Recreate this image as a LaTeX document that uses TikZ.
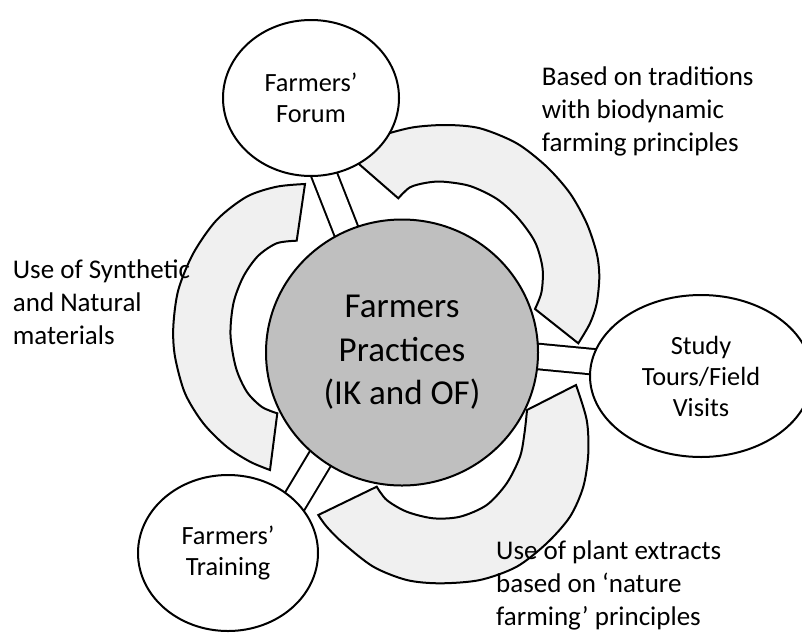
\documentclass[tikz,border=0pt]{standalone}
\usepackage{fontspec}
\setmainfont{Carlito}
\usetikzlibrary{shapes.geometric}
\pgfdeclarelayer{bars}
\pgfdeclarelayer{bands}
\pgfsetlayers{bars,bands,main}
\definecolor{hubgray}{gray}{0.75}
\definecolor{bandgray}{gray}{0.94}
\tikzset{
  outline/.style={draw=black, line width=2pt},
  hubnode/.style={ellipse, outline, fill=hubgray, minimum width=272pt, minimum height=266pt,
    inner sep=0pt, align=center, font=\fontsize{35}{43.5}\selectfont},
  satnode/.style={ellipse, outline, fill=white, inner sep=0pt, align=center,
    font=\fontsize{26.3}{31}\selectfont},
  band/.style={outline, fill=bandgray},
  barouter/.style={line width=27.5pt, draw=black},
  barinner/.style={line width=23.5pt, draw=white},
  % the base of a multi-line note is the baseline of its last line
  note/.style={anchor=base west, align=left, inner sep=0pt, font=\fontsize{27}{33}\selectfont},
}
\begin{document}
\begin{tikzpicture}[x=1pt,y=-1pt]
\useasboundingbox (0,0) rectangle (802,632);

% central practice circle and the three sources around it
\node[hubnode] (hub) at (402,352.5) {Farmers\\Practices\\(IK and OF)};
\node[satnode, minimum width=176pt, minimum height=156pt] (forum) at (311,98) {Farmers’\\Forum};
\node[satnode, minimum width=222pt, minimum height=162pt] (study) at (701,376) {Study\\Tours/Field\\Visits};
\node[satnode, minimum width=180pt, minimum height=156pt] (training) at (228,553) {Farmers’\\Training};

% spokes joining each source to the centre
\begin{pgfonlayer}{bars}
  \draw[barouter] ([xshift=-17pt]forum.center) -- ([xshift=-8pt]hub.center);
  \draw[barinner] ([xshift=-17pt]forum.center) -- ([xshift=-8pt]hub.center);
  \draw[barouter] ([yshift=4pt]study.center) -- ([yshift=9pt]hub.center);
  \draw[barinner] ([yshift=4pt]study.center) -- ([yshift=9pt]hub.center);
  \draw[barouter] ([xshift=35.7pt]training.center) -- ([xshift=-18pt]hub.center);
  \draw[barinner] ([xshift=35.7pt]training.center) -- ([xshift=-18pt]hub.center);
\end{pgfonlayer}

% curved bands between the sources
\begin{pgfonlayer}{bands}
  % forum -> study tours
  \filldraw[band] plot[smooth] coordinates {(368,142) (383.3,135) (413.3,127.3) (446.7,125)
      (480,128.3) (516.7,143.3) (546.7,166.7) (570,193.3) (586.7,223.3) (596.7,253.3)
      (599.3,276.7) (596.7,303.3) (590,323.3) (578.3,343.3)}
    -- plot[smooth] coordinates {(535,309) (541.5,292) (542.5,268) (535,242) (518,218)
      (497,199) (470,186) (443.3,181.7) (426.7,182.7) (410,187.3) (398.3,198.3)}
    -- (344,151) -- cycle;
  % study tours -> training
  \filldraw[band] plot[smooth] coordinates {(576,385) (586.7,420) (588.3,453.3) (583.3,486.7)
      (570,516.7) (546.7,543.3) (516.7,566.7) (480,580) (440,583.3) (406.7,580)
      (373.3,566.7) (343.3,543.3) (326.7,526.7) (318.3,515)}
    -- plot[smooth] coordinates {(376.7,486.7) (386.7,500) (406.7,511.7) (433.3,518.3)
      (460,516.7) (486.7,505) (506.7,483.3) (520,456.7) (524.5,433) (527,410)}
    -- cycle;
  % training -> forum
  \filldraw[band] plot[smooth] coordinates {(305,184) (276.7,186.7) (246.7,196.7) (216.7,220)
      (193.3,253.3) (178.3,290) (173.3,326.7) (175,356.7) (185,393.3) (203.3,423.3)
      (226.7,446.7) (250,461.7) (270,470)}
    -- plot[smooth] coordinates {(277.3,413.3) (262,407) (247,392) (236,368) (230.5,335)
      (233.5,303) (243.3,276.7) (258,256) (276.7,243.3) (296.7,240.7)}
    -- cycle;
\end{pgfonlayer}

% notes on each kind of practice
\node[note] (note-left) at (12.7,344) {Use of Synthetic\\and Natural\\materials};
\node[note] (note-top) at (541.7,151) {Based on traditions\\with biodynamic\\farming principles};
\node[note] (note-bottom) at (496,625.5) {Use of plant extracts\\based on ‘nature\\farming’ principles};
\end{tikzpicture}
\end{document}
